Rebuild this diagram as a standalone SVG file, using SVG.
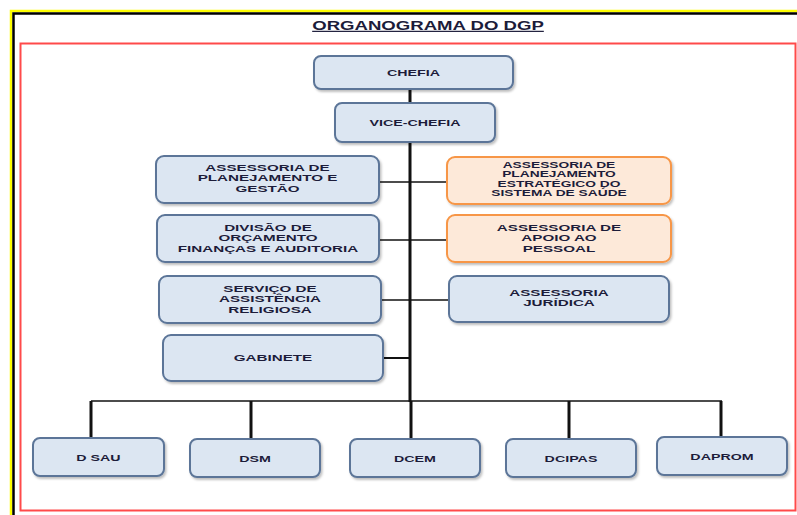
<svg xmlns="http://www.w3.org/2000/svg" width="797" height="515" viewBox="0 0 797 515">
<defs>
<style>
.box{fill:#dce6f2;stroke:#5b7598;stroke-width:2}
.obox{fill:#fde9d9;stroke:#f79646;stroke-width:2}
.t{font-family:"Liberation Sans",Arial,sans-serif;font-weight:bold;font-size:9.5px;fill:#1c1c3a;text-anchor:middle}
.ts{font-size:8.6px}
.thick{stroke:#111;stroke-width:3;fill:none}
.thin{stroke:#111;stroke-width:1.5;fill:none}
</style>
<filter id="sh" x="-10%" y="-10%" width="125%" height="135%">
<feDropShadow dx="1.5" dy="2" stdDeviation="1.2" flood-color="#000" flood-opacity="0.25"/>
</filter>
</defs>
<rect width="797" height="515" fill="#fff"/>
<path d="M11 515 V11 H797" fill="none" stroke="#ffff00" stroke-width="2.5"/>
<path d="M13.5 515 V13.5 H797" fill="none" stroke="#000" stroke-width="2.5"/>
<rect x="20.5" y="43.5" width="775" height="467" fill="none" stroke="#ff4a4a" stroke-width="2"/>
<text class="t" transform="translate(428,30) scale(1.55,1)" style="font-size:12px;text-decoration:underline">ORGANOGRAMA DO DGP</text>

<g id="connectors">
<line class="thick" x1="410" y1="88" x2="410" y2="104"/>
<line class="thick" x1="410" y1="141" x2="410" y2="402"/>
<line class="thin" x1="379" y1="182" x2="447" y2="182"/>
<line class="thin" x1="379" y1="240" x2="447" y2="240"/>
<line class="thin" x1="381" y1="300" x2="449" y2="300"/>
<line class="thin" x1="383" y1="358" x2="410" y2="358" style="stroke-width:2"/>
<line class="thin" x1="91" y1="401" x2="722" y2="401"/>
<line class="thick" x1="91" y1="401" x2="91" y2="438"/>
<line class="thick" x1="251" y1="401" x2="251" y2="439"/>
<line class="thick" x1="411" y1="401" x2="411" y2="439"/>
<line class="thick" x1="569" y1="401" x2="569" y2="439"/>
<line class="thick" x1="721" y1="401" x2="721" y2="437"/>
</g>

<g id="chefia"><rect class="box" filter="url(#sh)" x="314" y="56" width="199" height="33" rx="7"/>
<text class="t" transform="translate(413.5,76) scale(1.5,1)">CHEFIA</text></g>

<g id="vice-chefia"><rect class="box" filter="url(#sh)" x="335" y="103" width="160" height="39" rx="7"/>
<text class="t" transform="translate(415,126) scale(1.5,1)">VICE-CHEFIA</text></g>

<g id="ass-planejamento-gestao"><rect class="box" filter="url(#sh)" x="156" y="156" width="223" height="47" rx="8"/>
<text class="t" transform="translate(267.5,171) scale(1.6,1)"><tspan x="0">ASSESSORIA DE</tspan><tspan x="0" dy="10.5">PLANEJAMENTO E</tspan><tspan x="0" dy="10.5">GESTÃO</tspan></text></g>

<g id="ass-planejamento-estrategico"><rect class="obox" filter="url(#sh)" x="447" y="157" width="224" height="47" rx="8"/>
<text class="t ts" transform="translate(559,168) scale(1.6,1)"><tspan x="0">ASSESSORIA DE</tspan><tspan x="0" dy="9.3">PLANEJAMENTO</tspan><tspan x="0" dy="9.3">ESTRATÉGICO DO</tspan><tspan x="0" dy="9.3">SISTEMA DE SAÚDE</tspan></text></g>

<g id="divisao-orcamento"><rect class="box" filter="url(#sh)" x="157" y="215" width="222" height="47" rx="8"/>
<text class="t" transform="translate(268,231) scale(1.6,1)"><tspan x="0">DIVISÃO DE</tspan><tspan x="0" dy="10.5">ORÇAMENTO</tspan><tspan x="0" dy="10.5">FINANÇAS E AUDITORIA</tspan></text></g>

<g id="ass-apoio-pessoal"><rect class="obox" filter="url(#sh)" x="447" y="215" width="224" height="47" rx="8"/>
<text class="t" transform="translate(559,231) scale(1.6,1)"><tspan x="0">ASSESSORIA DE</tspan><tspan x="0" dy="10.5">APOIO AO</tspan><tspan x="0" dy="10.5">PESSOAL</tspan></text></g>

<g id="servico-assistencia"><rect class="box" filter="url(#sh)" x="159" y="276" width="222" height="47" rx="8"/>
<text class="t" transform="translate(270,292) scale(1.6,1)"><tspan x="0">SERVIÇO DE</tspan><tspan x="0" dy="10.5">ASSISTÊNCIA</tspan><tspan x="0" dy="10.5">RELIGIOSA</tspan></text></g>

<g id="ass-juridica"><rect class="box" filter="url(#sh)" x="449" y="276" width="220" height="46" rx="8"/>
<text class="t" transform="translate(559,296) scale(1.6,1)"><tspan x="0">ASSESSORIA</tspan><tspan x="0" dy="10.5">JURÍDICA</tspan></text></g>

<g id="gabinete"><rect class="box" filter="url(#sh)" x="163" y="335" width="220" height="46" rx="8"/>
<text class="t" transform="translate(273,361) scale(1.6,1)">GABINETE</text></g>

<g id="dsau"><rect class="box" filter="url(#sh)" x="33" y="438" width="131" height="38" rx="7"/>
<text class="t" transform="translate(98.5,460.5) scale(1.5,1)">D SAU</text></g>

<g id="dsm"><rect class="box" filter="url(#sh)" x="190" y="439" width="130" height="38" rx="7"/>
<text class="t" transform="translate(255,461.5) scale(1.5,1)">DSM</text></g>

<g id="dcem"><rect class="box" filter="url(#sh)" x="350" y="439" width="130" height="38" rx="7"/>
<text class="t" transform="translate(415,461.5) scale(1.5,1)">DCEM</text></g>

<g id="dcipas"><rect class="box" filter="url(#sh)" x="506" y="439" width="130" height="38" rx="7"/>
<text class="t" transform="translate(571,461.5) scale(1.5,1)">DCIPAS</text></g>

<g id="daprom"><rect class="box" filter="url(#sh)" x="657" y="437" width="130" height="38" rx="7"/>
<text class="t" transform="translate(722,460) scale(1.5,1)">DAPROM</text></g>
</svg>
